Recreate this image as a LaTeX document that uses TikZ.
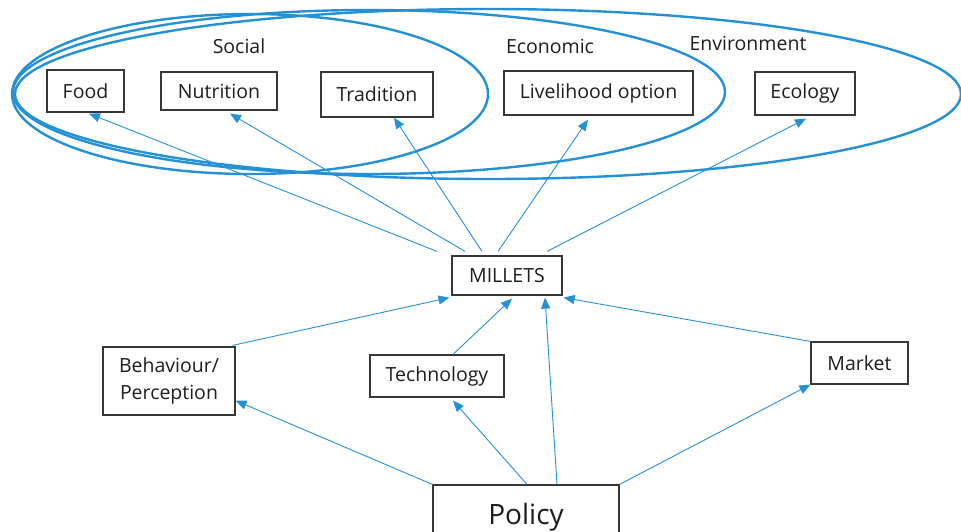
\documentclass[tikz,border=0pt]{standalone}
\usepackage{fontspec}
\setmainfont{Open Sans}
\usetikzlibrary{arrows.meta,calc}
\definecolor{eblue}{RGB}{36,145,213}
\definecolor{boxline}{RGB}{55,55,55}
\definecolor{txt}{RGB}{30,28,29}
\begin{document}
\begin{tikzpicture}[x=1pt,y=-1pt,
  every node/.style={text=txt,font=\fontsize{19.5}{27}\selectfont},
  box/.style={draw=boxline,line width=1.2pt,inner sep=0pt,align=center},
  ring/.style={draw=eblue,line width=2.4pt},
  conn/.style={draw=eblue,line width=0.9pt,-{Triangle[length=11pt,width=9pt]}},
  grouplabel/.style={inner sep=0pt}]
\useasboundingbox (0,0) rectangle (961,531);
% groups
\draw[ring] (250,94) ellipse [x radius=238, y radius=80];
\draw[ring] (369,92) ellipse [x radius=356, y radius=82];
\draw[ring] (488,94) ellipse [x radius=473, y radius=85];
\node[grouplabel] (social) at (239,46) {Social};
\node[grouplabel] (economic) at (550,46) {Economic};
\node[grouplabel] (environment) at (748,43) {Environment};
% boxes
\node[box,minimum width=77pt,minimum height=42pt] (food) at (85.5,91) {\raisebox{-1.5pt}{Food}};
\node[box,minimum width=116pt,minimum height=38pt] (nutrition) at (219,91) {\raisebox{-2pt}{Nutrition}};
\node[box,minimum width=112pt,minimum height=45pt] (tradition) at (377,94.5) {Tradition};
\node[box,minimum width=189pt,minimum height=44pt] (livelihood) at (598.5,93) {Livelihood option};
\node[box,minimum width=100pt,minimum height=43pt] (ecology) at (805,93.5) {\raisebox{-1.5pt}{Ecology}};
\node[box,minimum width=110pt,minimum height=39pt] (millets) at (507,275.5) {MILLETS};
\node[box,minimum width=132pt,minimum height=68pt] (behaviour) at (169,381) {Behaviour/\\Perception};
\node[box,minimum width=134pt,minimum height=42pt] (technology) at (437,376) {\raisebox{-1.5pt}{Technology}};
\node[box,minimum width=97pt,minimum height=42pt] (market) at (859.5,363) {\raisebox{-1.5pt}{Market}};
\node[box,minimum width=186pt,minimum height=64pt,font=\fontsize{28}{34}\selectfont] (policy) at (526,517) {Policy};
% upper connectors
\draw[conn] ($(millets.north)+(-70,-4)$) -- ($(food.south)+(3.5,1)$);
\draw[conn] ($(millets.north)+(-42,-4)$) -- ($(nutrition.south)+(11,3)$);
\draw[conn] ($(millets.north)+(-25,-4)$) -- ($(tradition.south)+(17,0)$);
\draw[conn] ($(millets.north)+(-9,-4)$) -- ($(livelihood.south)+(-10.5,4)$);
\draw[conn] ($(millets.north)+(40,-4)$) -- ($(ecology.south)+(1,3)$);
% lower connectors
\draw[conn] ($(behaviour.north east)+(-3,-1)$) -- ($(millets.south west)+(-2,2)$);
\draw[conn] ($(technology.north)+(16,0)$) -- ($(millets.south)+(5,3)$);
\draw[conn] ($(policy.north)+(31,0)$) -- ($(millets.south)+(38,2)$);
\draw[conn] (market.north west) -- ($(millets.south east)+(1,2)$);
\draw[conn] (policy.north west) -- ($(behaviour.south east)+(0,-15)$);
\draw[conn] ($(policy.north)+(1,0)$) -- ($(technology.south)+(16,3)$);
\draw[conn] (policy.north east) -- (market.south west);
\end{tikzpicture}
\end{document}
